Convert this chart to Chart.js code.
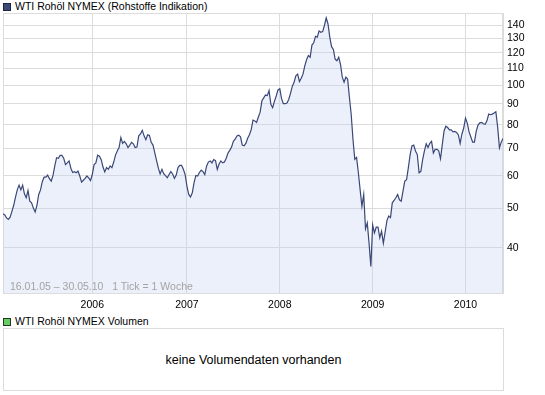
<!DOCTYPE html>
<html>
<head>
<meta charset="utf-8">
<script src="https://cdn.jsdelivr.net/npm/chart.js@4.4.0/dist/chart.umd.min.js"></script>
<style>
html,body{margin:0;padding:0;background:#fff;width:545px;height:395px;overflow:hidden;font-family:"Liberation Sans",Arial,sans-serif;}
#wrap{position:absolute;left:0;top:0;width:545px;height:315px;}
.leg{position:absolute;left:3px;font-size:10.5px;color:#000;line-height:13px;white-space:nowrap;}
.leg .sq{display:inline-block;box-sizing:border-box;width:8px;height:8px;border:1px solid #1e2540;margin-right:4px;vertical-align:-1px;}
#range{position:absolute;left:10px;top:280px;font-size:10.5px;line-height:13px;color:#a3a3a3;white-space:pre;}
#vol{position:absolute;left:3px;top:328px;width:501px;height:63px;box-sizing:border-box;border:1px solid #dcdcdc;background:#fff;
     font-size:12.5px;color:#000;display:flex;align-items:center;justify-content:center;}
</style>
</head>
<body>
<div class="leg" style="top:0px"><span class="sq" style="background:#3c4a78"></span>WTI Rohöl NYMEX (Rohstoffe Indikation)</div>
<div id="wrap"><canvas id="c"></canvas></div>
<div id="range">16.01.05 – 30.05.10   1 Tick = 1 Woche</div>
<div class="leg" style="top:315px"><span class="sq" style="background:#66cc66;border-color:#1f3a1f"></span>WTI Rohöl NYMEX Volumen</div>
<div id="vol">keine Volumendaten vorhanden</div>
<script>
// Weekly closing prices (USD/bbl), one value per week starting 16.01.2005
const prices2005 = [48.4,48.1,47.3,46.9,47.5,49.1,50.8,53.2,55.4,56.9,55.4,56.9,54.2,53.0,55.2,52.0,51.5,50.0,48.9,50.8,
  54.0,55.4,58.0,59.5,59.5,60.2,59.0,58.2,60.1,63.4,66.4,66.2,67.3,67.3,66.2,63.9,64.5,65.2,62.6,61.1,
  61.4,61.0,61.6,59.9,57.9,58.5,59.1,59.9,59.3,58.4];
const prices2006 = [60.4,63.9,64.5,67.4,67.0,65.7,63.0,61.3,62.8,62.2,63.4,62.8,64.8,67.4,69.0,70.3,74.4,72.0,72.8,71.8,
  70.3,71.3,72.4,71.8,70.3,70.5,75.1,75.9,77.5,75.1,73.5,75.6,75.3,72.4,71.3,68.2,65.3,62.6,60.6,62.2,
  60.7,60.0,59.3,60.4,61.4,60.6,59.1,60.2,62.8,63.6,63.6,62.2,60.4];
const prices2007 = [56.6,54.0,53.2,54.5,57.7,60.1,59.9,61.1,61.9,61.4,60.4,63.3,64.8,65.2,64.5,65.7,65.3,62.2,64.1,65.2,
  64.5,64.8,66.2,68.2,69.2,70.5,72.8,73.7,75.1,75.4,74.7,71.3,71.0,72.0,74.1,75.6,77.8,82.1,81.7,81.0,
  83.5,85.8,91.5,93.0,94.5,94.2,96.9,89.7,88.0,91.2,94.0,97.3];
const prices2008 = [97.9,92.6,90.0,90.0,90.4,92.2,95.4,99.2,101.6,105.3,106.3,102.0,103.9,106.3,111.4,115.3,118.0,116.9,125.2,126.8,
  131.6,131.0,135.6,134.6,135.1,139.8,146.0,141.0,131.0,124.1,122.2,115.7,114.6,116.9,112.4,104.5,101.6,104.5,103.4,93.2,
  84.7,73.5,65.8,66.5,61.0,55.4,50.5,54.0,44.5,46.0,41.0,36.0];
const prices2009 = [45.5,43.5,44.9,44.9,42.3,43.9,41.0,43.7,46.6,47.8,47.4,51.5,52.2,53.0,54.0,52.4,52.0,55.0,58.2,58.7,
  62.8,67.6,71.0,71.3,69.0,67.6,61.0,61.5,65.7,69.0,71.8,70.3,72.0,72.8,68.2,69.6,69.6,69.0,66.0,71.5,
  77.2,79.3,78.7,77.7,77.7,76.8,77.0,76.6,75.5,72.0,75.9,78.5];
const prices2010 = [83.0,80.7,76.8,74.6,72.5,72.5,77.0,79.8,80.8,81.0,80.4,80.2,81.7,84.9,84.6,84.9,85.4,86.0,79.0,70.2,
  72.5,74.0];

// Axis ticks
const yearTickWeeks = [50, 103, 155, 207, 259];   // first weekly point of each year
const yearLabels = ['2006', '2007', '2008', '2009', '2010'];
const priceTicks = [40, 50, 60, 70, 80, 90, 100, 110, 120, 130, 140];

const allPrices = [].concat(prices2005, prices2006, prices2007, prices2008, prices2009, prices2010);
const points = allPrices.map((v, i) => ({x: i, y: v}));

const gridCol = '#dcdcdc';
const frame = {
  id: 'frame',
  beforeDatasetsDraw(chart) {
    const a = chart.chartArea, ctx = chart.ctx;
    ctx.save();
    ctx.strokeStyle = gridCol;
    ctx.lineWidth = 1;
    ctx.strokeRect(Math.round(a.left) + 0.5, Math.round(a.top) + 0.5, Math.round(a.right - a.left) - 1, Math.round(a.bottom - a.top));
    ctx.restore();
  }
};

new Chart(document.getElementById('c'), {
  type: 'line',
  data: {
    datasets: [{
      label: 'WTI Rohöl NYMEX',
      data: points,
      borderColor: '#3a4878',
      borderWidth: 1.2,
      backgroundColor: 'rgba(196,208,238,0.32)',
      fill: 'start',
      pointRadius: 0,
      tension: 0
    }]
  },
  plugins: [frame],
  options: {
    responsive: true,
    maintainAspectRatio: false,
    animation: false,
    devicePixelRatio: 1,
    layout: {padding: {top: 13, left: 3, right: 0, bottom: 0}},
    plugins: {legend: {display: false}, tooltip: {enabled: false}},
    scales: {
      x: {
        type: 'linear',
        min: 0,
        max: allPrices.length - 1,
        position: 'bottom',
        afterBuildTicks: s => { s.ticks = yearTickWeeks.map(v => ({value: v})); },
        afterFit: s => { s.height = 22; },
        grid: {color: gridCol, drawTicks: false},
        border: {color: gridCol},
        ticks: {
          padding: 6,
          autoSkip: false,
          maxRotation: 0,
          color: '#000',
          font: {family: '"Liberation Sans", Arial, sans-serif', size: 10.5},
          callback: (v, i) => yearLabels[i]
        }
      },
      y: {
        type: 'logarithmic',
        position: 'right',
        min: 31,
        max: 150,
        afterBuildTicks: s => { s.ticks = priceTicks.map(v => ({value: v})); },
        afterFit: s => { s.width = 42; },
        grid: {color: gridCol, drawTicks: false},
        border: {color: gridCol},
        ticks: {
          padding: 4,
          autoSkip: false,
          color: '#000',
          font: {family: '"Liberation Sans", Arial, sans-serif', size: 10.5},
          callback: v => String(v)
        }
      }
    }
  }
});
</script>
</body>
</html>
